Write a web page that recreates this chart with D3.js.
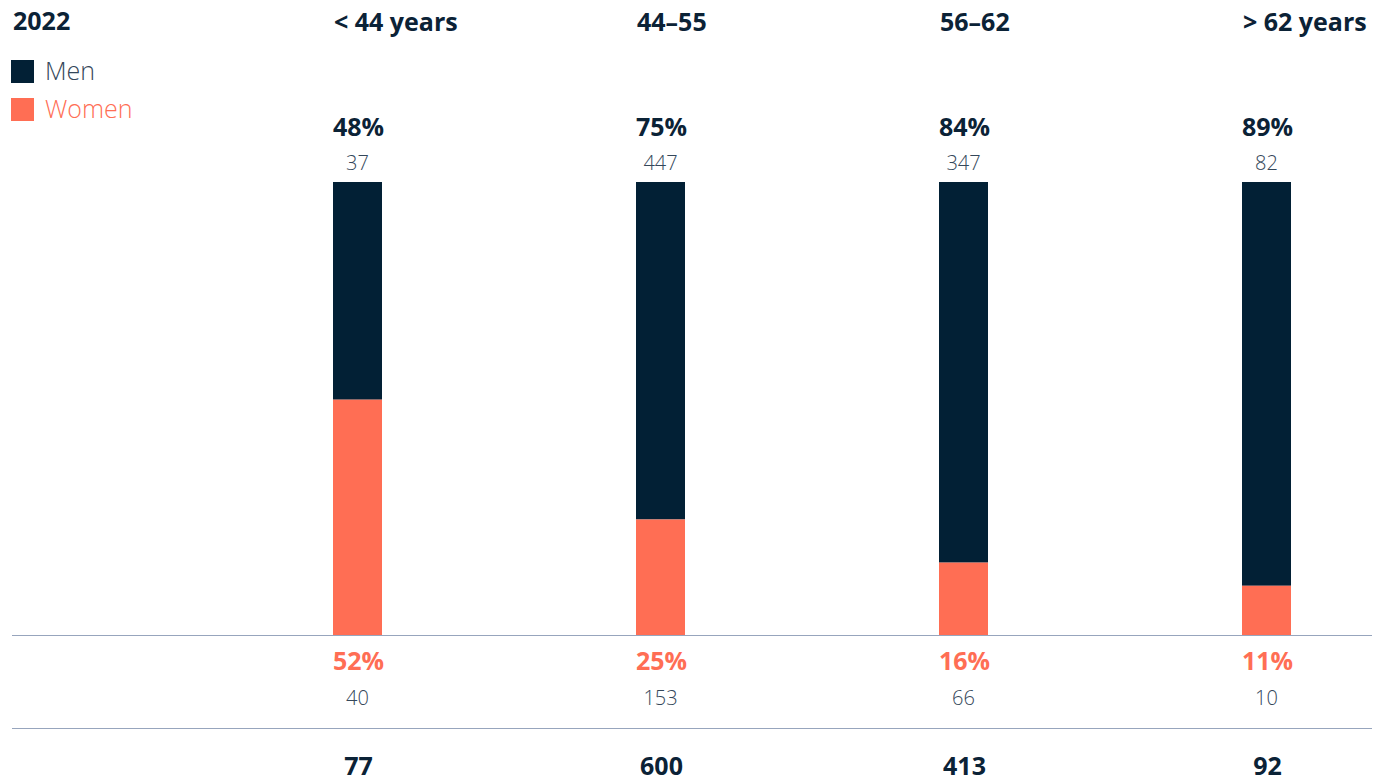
<!DOCTYPE html>
<html>
<head>
<meta charset="utf-8">
<script src="https://cdn.jsdelivr.net/npm/d3@7"></script>
<style>
  body { margin: 0; background: #fff; }
  svg { font-family: "Open Sans", "Noto Sans", sans-serif; }
  .head { font-size: 25px; font-weight: 700; fill: #0b2236; }
  .pct { font-size: 25px; font-weight: 700; }
  .count { font-size: 20px; font-weight: 300; fill: #34475a; }
  .legend { font-size: 25px; font-weight: 300; }
</style>
</head>
<body>
<div id="chart"></div>
<script>
// Data
const year = "2022";
const groups = ["< 44 years", "44–55", "56–62", "> 62 years"];
const men = [37, 447, 347, 82];
const women = [40, 153, 66, 10];
const menPct = ["48%", "75%", "84%", "89%"];
const womenPct = ["52%", "25%", "16%", "11%"];

const navy = "#022035";
const coral = "#ff6e54";
const rule = "#97a5bd";

const W = 1373, H = 778;
const svg = d3.select("#chart").append("svg").attr("width", W).attr("height", H);

const x = d3.scalePoint().domain(groups).range([357.5, 1266.5]);
const y = d3.scaleLinear().domain([0, 1]).range([635, 182]);
const barW = 49;

const data = groups.map((g, i) => ({
  key: g, men: men[i], women: women[i], total: men[i] + women[i],
  menPct: menPct[i], womenPct: womenPct[i]
}));

// Title + legend
svg.append("text").attr("class", "head").attr("x", 13).attr("y", 30).text(year);

const legend = [["Men", navy, "#34475a"], ["Women", coral, coral]];
legend.forEach((l, i) => {
  svg.append("rect").attr("x", 11).attr("y", 60 + i * 38).attr("width", 23).attr("height", 23).attr("fill", l[1]);
  svg.append("text").attr("class", "legend").attr("x", 45).attr("y", 80 + i * 38).attr("fill", l[2]).text(l[0]);
});

// Column headers
svg.selectAll(".colhead").data(data).enter().append("text")
  .attr("class", "head")
  .attr("x", d => x(d.key) - barW / 2 + 1)
  .attr("y", 31)
  .text(d => d.key);

// Bars
const col = svg.selectAll(".col").data(data).enter().append("g").attr("class", "col");

col.append("rect")
  .attr("x", d => x(d.key) - barW / 2)
  .attr("y", y(1))
  .attr("width", barW)
  .attr("height", d => y(d.women / d.total) - y(1))
  .attr("fill", navy);

col.append("rect")
  .attr("x", d => x(d.key) - barW / 2)
  .attr("y", d => y(d.women / d.total))
  .attr("width", barW)
  .attr("height", d => y(0) - y(d.women / d.total))
  .attr("fill", coral);

// Men labels
col.append("text").attr("class", "pct").attr("text-anchor", "middle")
  .attr("x", d => x(d.key) + 1).attr("y", 136).attr("fill", "#0b2236").text(d => d.menPct);
col.append("text").attr("class", "count").attr("text-anchor", "middle")
  .attr("x", d => x(d.key)).attr("y", 170).text(d => d.men);

// Women labels
col.append("text").attr("class", "pct").attr("text-anchor", "middle")
  .attr("x", d => x(d.key) + 1).attr("y", 670).attr("fill", coral).text(d => d.womenPct);
col.append("text").attr("class", "count").attr("text-anchor", "middle")
  .attr("x", d => x(d.key)).attr("y", 705).text(d => d.women);

// Totals
col.append("text").attr("class", "pct").attr("text-anchor", "middle")
  .attr("x", d => x(d.key) + 1).attr("y", 775).attr("fill", "#0b2236").text(d => d.total);

// Rules
[y(0), 728].forEach(yy => {
  svg.append("line").attr("x1", 12).attr("x2", 1372).attr("y1", yy + 0.5).attr("y2", yy + 0.5)
    .attr("stroke", rule).attr("stroke-width", 1.2);
});
</script>
</body>
</html>
